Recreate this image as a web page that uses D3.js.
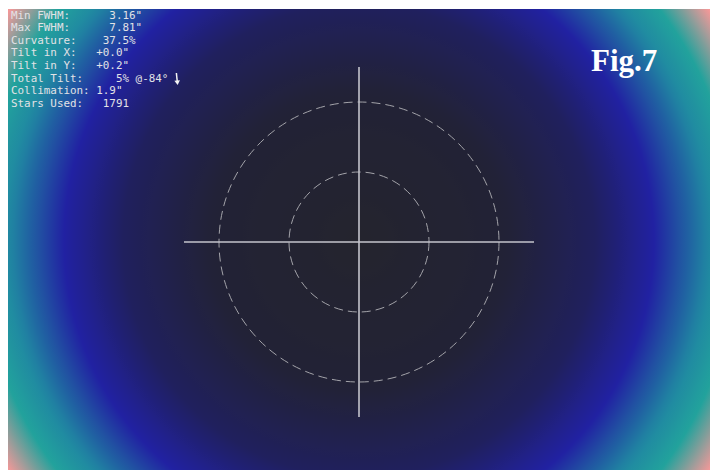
<!DOCTYPE html>
<html>
<head>
<meta charset="utf-8">
<script src="https://cdn.jsdelivr.net/npm/d3@7"></script>
<style>
  html, body { margin: 0; padding: 0; background: #fff; }
  svg { display: block; }
</style>
</head>
<body>
<div id="root"></div>
<script>
/* global d3 */

// statistics panel, as printed
const statLines = [
  'Min FWHM:      3.16"',
  'Max FWHM:      7.81"',
  'Curvature:    37.5%',
  'Tilt in X:   +0.0"',
  'Tilt in Y:   +0.2"',
  'Total Tilt:     5% @-84\u00b0',
  'Collimation: 1.9"',
  'Stars Used:   1791',
];
const tiltAngle = -84;
const figLabel = 'Fig.7';

// FWHM map: distance from centre (fraction of corner distance) -> colour
const fwhmStops = [0, 0.35, 0.56, 0.70, 0.83, 0.9, 1];
const fwhmColors = ['#24242e', '#222236', '#20205e', '#2121a2', '#2088a2', '#22a29c', '#ff9898'];

// reference rings, as a fraction of the crosshair half length
const ringFractions = [0.4, 0.8];

const width = 718;
const height = 470;
const imgLeft = 8;
const imgTop = 9;
const imgRight = 710;
const imgBottom = 470;
const centerX = 359;
const centerY = 242;
const crossHalf = 175;

function render() {
  const svg = d3.select('#root')
    .append('svg')
    .attr('width', width)
    .attr('height', height);

  const cornerDist = Math.hypot(centerX - imgLeft, centerY - imgTop);
  const colorScale = d3.scaleLinear()
    .domain(fwhmStops)
    .range(fwhmColors)
    .interpolate(d3.interpolateRgb);

  const grad = svg.append('defs')
    .append('radialGradient')
    .attr('id', 'fwhm')
    .attr('gradientUnits', 'userSpaceOnUse')
    .attr('cx', centerX)
    .attr('cy', centerY - 1.5)
    .attr('r', cornerDist);

  grad.selectAll('stop')
    .data(d3.range(0, 1.0001, 0.02))
    .enter()
    .append('stop')
    .attr('offset', (d) => d)
    .attr('stop-color', (d) => colorScale(d));

  svg.append('rect')
    .attr('x', imgLeft)
    .attr('y', imgTop)
    .attr('width', imgRight - imgLeft)
    .attr('height', imgBottom - imgTop)
    .attr('fill', 'url(#fwhm)');

  const rScale = d3.scaleLinear()
    .domain([0, 1])
    .range([0, crossHalf]);

  const g = svg.append('g')
    .attr('transform', `translate(${ centerX },${ centerY })`);

  g.selectAll('.ring')
    .data(ringFractions)
    .enter()
    .append('circle')
    .attr('class', 'ring')
    .attr('r', (d) => rScale(d))
    .attr('fill', 'none')
    .attr('stroke', '#a4a4aa')
    .attr('stroke-width', 1)
    .attr('stroke-dasharray', '9,5');

  g.append('line')
    .attr('x1', -rScale(1)).attr('x2', rScale(1))
    .attr('y1', 0).attr('y2', 0)
    .attr('stroke', '#c4c4cc')
    .attr('stroke-width', 1.6);

  g.append('line')
    .attr('x1', 0).attr('x2', 0)
    .attr('y1', -rScale(1)).attr('y2', rScale(1))
    .attr('stroke', '#c4c4cc')
    .attr('stroke-width', 1.6);

  svg.append('g')
    .selectAll('text')
    .data(statLines)
    .enter()
    .append('text')
    .attr('x', 11)
    .attr('y', (_d, i) => 18.5 + i * 12.6)
    .attr('font-family', '"DejaVu Sans Mono", "Liberation Mono", monospace')
    .attr('font-size', '10.9px')
    .attr('fill', '#e2e2e6')
    .style('white-space', 'pre')
    .attr('xml:space', 'preserve')
    .text((d) => d);

  // tilt direction arrow
  const a = tiltAngle * Math.PI / 180;
  const ax = 177;
  const ay = 79;
  const len = 6;
  const dx = Math.cos(a);
  const dy = -Math.sin(a);
  const tipX = ax + dx * len;
  const tipY = ay + dy * len;
  svg.append('line')
    .attr('x1', ax - dx * len).attr('y1', ay - dy * len)
    .attr('x2', tipX - dx * 2).attr('y2', tipY - dy * 2)
    .attr('stroke', '#f4f4f4')
    .attr('stroke-width', 1.5);
  const px = -dy;
  const py = dx;
  svg.append('path')
    .attr('d', `M${ tipX },${ tipY }L${ tipX - dx * 4.5 + px * 2.8 },${ tipY - dy * 4.5 + py * 2.8 }L${ tipX - dx * 4.5 - px * 2.8 },${ tipY - dy * 4.5 - py * 2.8 }Z`)
    .attr('fill', '#f4f4f4');

  svg.append('text')
    .attr('x', 591)
    .attr('y', 71)
    .attr('font-family', '"Liberation Serif", "Times New Roman", serif')
    .attr('font-weight', 'bold')
    .attr('font-size', '31px')
    .attr('fill', '#ffffff')
    .text(figLabel);
}

render();
</script>
</body>
</html>
